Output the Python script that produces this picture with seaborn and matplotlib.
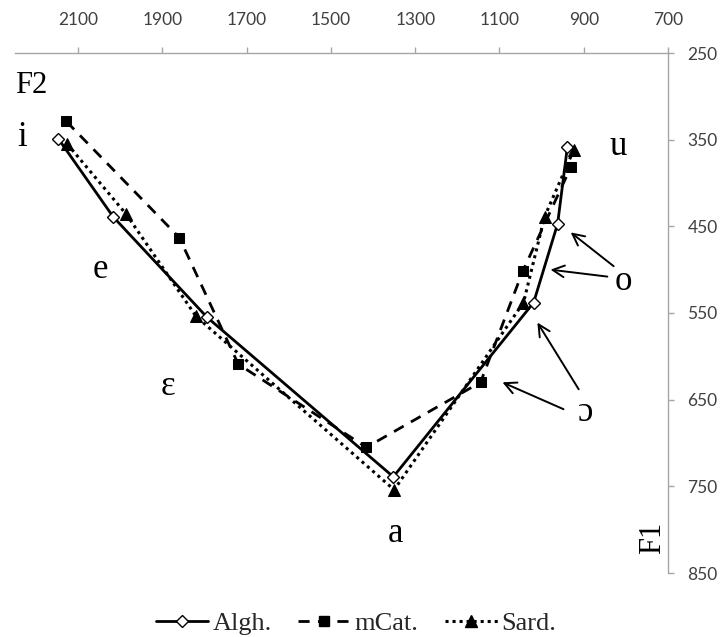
import matplotlib
matplotlib.use("Agg")
import matplotlib.pyplot as plt
import seaborn as sns
import pandas as pd
from matplotlib.lines import Line2D

# Vowel formant means (Hz) for three varieties
vowels = ["i", "e", "ɛ", "a", "ɔ", "o", "u"]
algh_f2 = [2147, 2017, 1794, 1352, 1019, 962, 939]
algh_f1 = [349, 439, 555, 739, 538, 447, 359]
mcat_f2 = [2128, 1860, 1720, 1416, 1145, 1045, 931]
mcat_f1 = [329, 463, 609, 705, 630, 502, 382]
sard_f2 = [2126, 1986, 1820, 1350, 1043, 993, 924]
sard_f1 = [355, 436, 554, 754, 538, 439, 362]

series_names = ["Algh.", "mCat.", "Sard."]
f2_ticks = [2100, 1900, 1700, 1500, 1300, 1100, 900, 700]
f1_ticks = [250, 350, 450, 550, 650, 750, 850]

sns.set_theme(style="white")
plt.rcParams["font.family"] = ["Lato", "DejaVu Sans"]

df = pd.concat([
    pd.DataFrame({"vowel": vowels, "F2": algh_f2, "F1": algh_f1, "variety": series_names[0]}),
    pd.DataFrame({"vowel": vowels, "F2": mcat_f2, "F1": mcat_f1, "variety": series_names[1]}),
    pd.DataFrame({"vowel": vowels, "F2": sard_f2, "F1": sard_f1, "variety": series_names[2]}),
])

styles = {
    "Algh.": dict(linestyle="-", marker="D", markersize=6.5, markerfacecolor="white",
                  markeredgecolor="black", markeredgewidth=1.0, linewidth=2.0),
    "mCat.": dict(linestyle=(0, (4, 3)), marker="s", markersize=7.5, markerfacecolor="black",
                  markeredgecolor="black", linewidth=2.0),
    "Sard.": dict(linestyle=(0, (1, 1.3)), marker="^", markersize=9, markerfacecolor="black",
                  markeredgecolor="black", linewidth=2.2),
}

fig = plt.figure(figsize=(7.2, 6.37), dpi=100)
ax = fig.add_axes([15 / 720, 1 - 573 / 637, (668 - 15) / 720, (573 - 53) / 637])

for name in series_names:
    sub = df[df["variety"] == name]
    sns.lineplot(data=sub, x="F2", y="F1", sort=False, estimator=None, color="black",
                 ax=ax, legend=False, **styles[name])

ax.set_xlim(2250, 700)
ax.set_ylim(850, 250)
ax.set_xticks(f2_ticks)
ax.set_yticks(f1_ticks)
ax.xaxis.tick_top()
ax.yaxis.tick_right()
ax.set_xlabel("")
ax.set_ylabel("")

axis_grey = "#a6a6a6"
for side in ["bottom", "left"]:
    ax.spines[side].set_visible(False)
for side in ["top", "right"]:
    ax.spines[side].set_visible(True)
    ax.spines[side].set_color(axis_grey)
    ax.spines[side].set_linewidth(1.0)
ax.tick_params(axis="x", which="both", top=True, bottom=False, direction="out", length=4,
               width=1, color=axis_grey, labelsize=12.5, labelcolor="#404040", pad=14)
ax.tick_params(axis="y", which="both", right=True, left=False, direction="out", length=4,
               width=1, color=axis_grey, labelsize=12.5, labelcolor="#404040", pad=10)
ax.grid(False)

serif = "Liberation Serif"
# Vowel labels
label_pos = {
    "i": (2233, 347), "e": (2048, 500), "ɛ": (1886, 635), "a": (1347, 804),
    "u": (818, 358), "o": (806, 514), "ɔ": (896, 665),
}
for v, (x, y) in label_pos.items():
    ax.text(x, y, v, fontsize=25, family=serif, ha="center", va="center", color="black")

ax.text(2212, 288, "F2", fontsize=22, family=serif, ha="center", va="center", color="black")
ax.text(737, 809, "F1", fontsize=22, family=serif, ha="center", va="center", rotation=90,
        color="black")

# Arrows pointing the back vowels to their points
arrow_kw = dict(arrowstyle="->,head_length=0.7,head_width=0.35", color="black", lw=1.4,
                shrinkA=0, shrinkB=0)
arrows = [((829, 496), (931, 457)), ((844, 508), (979, 500)),
          ((912, 638), (1010, 561)), ((948, 661), (1093, 630))]
for (x0, y0), (x1, y1) in arrows:
    ax.annotate("", xy=(x1, y1), xytext=(x0, y0), arrowprops=arrow_kw)

handles = [Line2D([], [], color="black", **styles[n]) for n in series_names]
fig.legend(handles, series_names, loc="center", bbox_to_anchor=(356 / 720, 1 - 623 / 637),
           ncol=3, frameon=False, prop={"family": serif, "size": 19},
           handlelength=2.0, handletextpad=0.15, columnspacing=1.0)

fig.savefig("out.png", dpi=100)
